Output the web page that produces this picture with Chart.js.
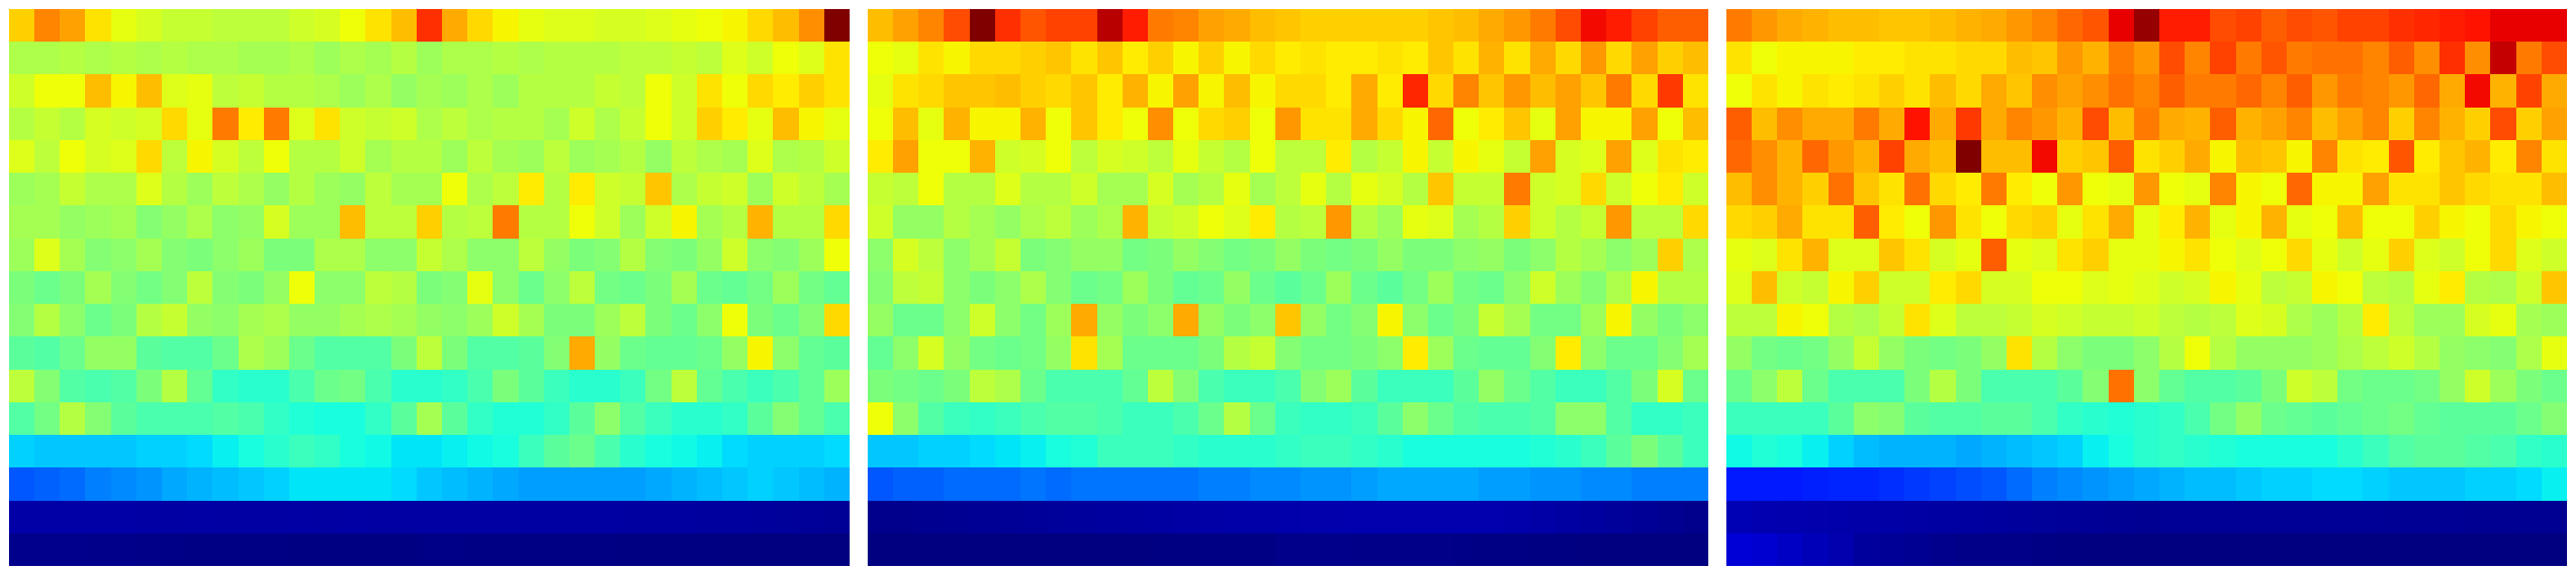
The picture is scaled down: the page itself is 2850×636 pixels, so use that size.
<!DOCTYPE html>
<html>
<head>
<meta charset="utf-8">
<style>
html,body{margin:0;padding:0;background:#fff;width:2850px;height:636px;overflow:hidden}
canvas{position:absolute;top:10px;display:block}
</style>
<script src="https://cdn.jsdelivr.net/npm/chart.js@4"></script>
</head>
<body>
<canvas id="p1" width="930" height="616" style="left:10px"></canvas>
<canvas id="p2" width="930" height="616" style="left:960px"></canvas>
<canvas id="p3" width="930" height="616" style="left:1910px"></canvas>
<script>
const columns = ["1","2","3","4","5","6","7","8","9","10","11","12","13","14","15","16","17","18","19","20","21","22","23","24","25","26","27","28","29","30","31","32","33"];

const panel1 = [
[69,77,74,67,63,61,59,59,58,58,58,60,61,64,67,71,86,73,68,65,63,62,62,61,61,62,63,64,65,68,71,76,100],
[56,56,57,56,57,56,57,56,56,55,55,56,54,56,55,57,54,56,56,57,56,57,57,57,58,58,59,58,62,60,64,62,67],
[60,64,64,71,65,71,62,63,58,59,57,57,56,54,56,53,55,54,56,54,57,57,57,59,58,64,60,67,64,68,66,69,67],
[57,59,57,61,60,61,68,63,78,66,78,62,67,60,59,60,56,58,56,57,57,55,60,56,59,64,60,69,66,63,71,65,63],
[62,58,64,61,62,68,58,65,61,58,64,57,57,60,55,57,57,54,58,55,54,58,54,55,57,53,58,56,55,62,56,57,60],
[54,55,59,56,56,62,57,54,58,56,53,57,54,53,58,55,55,64,56,58,66,57,66,60,59,70,56,59,60,54,60,58,55],
[55,55,53,54,55,51,53,56,52,53,61,54,54,71,58,58,69,57,58,78,57,57,64,60,54,60,65,55,57,72,57,57,68],
[54,62,55,51,52,55,51,50,52,54,50,50,56,56,52,52,59,56,52,52,58,53,50,51,57,51,50,53,60,52,51,54,64],
[50,48,50,55,51,49,51,58,51,50,53,64,52,52,58,57,50,51,63,52,48,52,58,49,48,50,55,48,47,49,54,49,47],
[51,57,52,48,50,57,59,53,52,55,56,53,53,55,56,55,53,52,54,60,55,50,50,54,58,50,48,52,64,50,48,51,68],
[46,45,48,53,53,46,45,45,48,56,54,48,45,45,45,50,58,50,45,45,46,51,73,53,48,47,47,48,53,65,52,47,46],
[58,51,45,44,45,50,57,47,41,40,40,44,48,49,44,40,40,41,44,50,46,42,40,40,42,49,58,47,44,42,44,47,54],
[45,49,57,51,46,44,44,44,45,44,41,39,38,38,41,46,55,46,41,39,39,41,46,52,45,42,40,40,41,46,51,47,44],
[33,32,32,32,32,33,33,34,36,38,40,42,41,38,37,35,35,36,37,38,42,46,48,44,40,38,37,36,34,33,33,33,34],
[21,22,23,25,26,27,29,30,31,32,33,35,35,35,35,34,32,31,30,29,28,28,28,28,28,29,30,31,32,33,32,31,30],
[3.3,3.3,3.3,3.3,3.3,3.2,3.1,3.2,3.1,3.1,3.1,3.2,3.1,3.2,3.1,3.1,3.1,3.1,3.1,3.1,3,3,3,3,2.9,2.9,2.8,2.7,2.6,2.5,2.3,2.1,2],
[1.1,1.1,1.1,1,1,0.7,0.6,0.5,0.5,0.5,0.4,0.3,0.3,0.3,0.3,0.3,0.6,0.6,0.5,0.5,0.5,0.5,0.4,0.4,0.3,0.3,0.2,0.2,0.1,0.1,0,0,0]
];

const panel2 = [
[71,74,77,83,100,86,82,84,84,95,88,78,77,74,73,71,70,69,69,69,69,69,70,71,73,75,78,83,90,88,84,81,81],
[64,63,67,65,68,68,69,70,67,70,66,69,65,69,65,68,66,67,66,66,67,66,70,67,72,67,73,68,75,68,74,69,71],
[63,67,68,70,70,71,69,68,70,66,72,65,74,65,71,65,68,68,66,73,66,87,68,77,70,75,71,74,70,78,68,85,67],
[64,71,63,72,65,65,72,64,70,66,64,76,64,68,69,64,75,67,67,73,68,65,80,64,66,70,63,74,65,65,74,64,71],
[66,74,64,64,72,60,61,64,58,61,60,58,63,59,57,64,58,58,66,57,59,65,59,65,63,59,74,61,62,74,62,67,66],
[59,58,64,57,57,62,57,57,60,55,55,61,55,57,63,55,58,63,57,63,61,57,70,59,59,78,60,61,68,60,64,66,60],
[60,53,53,57,55,53,56,58,54,56,72,59,60,64,62,66,57,58,75,57,54,63,62,55,57,69,60,57,59,75,58,58,68],
[52,61,58,52,55,59,50,51,53,53,49,50,53,51,49,50,53,50,49,50,53,50,50,52,53,50,52,57,55,52,54,69,56],
[51,58,59,52,50,52,56,51,48,49,54,50,47,48,53,48,46,48,54,48,46,49,54,49,48,52,60,54,51,56,65,57,57],
[53,48,48,52,60,52,49,54,73,53,50,52,73,53,50,52,70,53,49,51,65,52,48,50,59,55,49,49,54,65,53,50,52],
[47,52,61,53,49,48,49,53,67,55,48,48,48,50,57,59,51,49,49,50,52,66,54,48,47,47,51,66,52,48,48,51,55],
[50,49,48,50,58,56,48,44,44,44,47,58,51,44,42,42,44,51,54,46,42,42,42,46,53,48,45,42,42,45,50,61,48],
[64,52,45,42,41,42,44,45,45,44,42,42,44,48,57,48,42,41,41,42,46,52,48,45,44,44,45,52,52,45,41,41,42],
[32,32,33,33,34,35,36,38,39,42,42,42,41,40,40,40,41,42,42,41,40,38,38,38,38,38,39,40,42,46,50,46,42],
[21,22,22,23,23,23,24,23,24,24,24,24,24,25,25,26,26,27,27,28,29,29,29,29,28,28,27,27,26,26,25,25,25],
[1.1,1.2,1.4,1.6,1.8,2,2.2,2.4,2.5,2.7,2.9,3,3.2,3.3,3.5,3.6,3.7,3.8,3.9,4,4,4,4,4,4,3.7,3.3,3,2.6,2.3,1.9,1.5,1.1],
[0,0,0,0,0,0,0,0,0,0,0.1,0.2,0.3,0.4,0.4,0.5,0.9,0.9,0.9,0.8,0.8,0.7,0.7,0.6,0.5,0.4,0.3,0.2,0.1,0,0,0,0]
];

const panel3 = [
[78,75,73,72,71,71,70,70,71,72,73,75,77,80,82,91,98,88,88,83,84,81,83,82,84,84,86,87,88,89,91,91,91],
[67,64,65,65,65,66,66,67,67,68,68,71,70,75,72,78,75,83,77,84,78,82,78,79,79,77,81,76,86,76,94,78,83],
[64,67,65,67,66,67,69,67,71,68,73,70,76,74,76,79,77,81,78,78,80,77,81,75,78,77,75,80,73,90,72,84,73],
[81,71,76,73,73,78,73,89,73,85,73,77,75,72,83,71,78,73,72,81,72,74,77,71,74,77,69,77,72,69,83,69,74],
[80,76,72,80,75,72,84,73,71,100,71,71,90,69,70,81,67,69,73,65,71,70,65,77,67,66,82,66,70,72,66,77,67],
[71,76,72,69,79,70,67,79,68,66,78,66,64,75,64,63,75,64,63,77,65,64,80,65,65,74,67,67,70,68,67,67,71],
[68,69,73,67,67,81,66,64,75,67,64,68,69,63,67,73,63,66,72,63,65,72,63,64,71,64,64,69,65,64,68,65,64],
[63,62,67,72,62,62,70,67,61,63,81,63,62,67,69,63,63,65,67,64,62,64,68,63,60,63,69,62,60,64,68,62,60],
[62,71,60,59,65,69,60,60,66,68,61,61,64,64,62,63,62,60,61,65,63,58,59,65,64,58,57,63,66,57,56,60,70],
[58,58,65,64,57,56,59,67,62,58,58,59,61,60,59,59,60,58,57,58,62,61,56,54,57,66,58,54,54,61,63,55,54],
[53,49,48,49,53,59,53,50,49,50,53,67,57,52,50,50,52,57,64,57,53,53,53,54,56,58,60,57,53,52,51,56,63],
[48,52,58,48,44,44,44,50,57,50,44,44,44,46,51,79,52,47,45,45,46,50,60,58,49,48,48,49,53,60,54,50,48],
[42,42,42,42,46,52,51,46,45,45,46,46,44,41,40,39,40,41,44,49,53,48,47,46,47,48,49,47,46,46,46,48,51],
[37,39,38,36,33,31,30,30,30,29,30,31,32,33,36,38,40,41,40,39,38,38,38,38,40,42,45,46,46,45,44,41,40],
[15,15,15,15.5,16,16,17,18,19,20,21,23,25,26,27,28,29,30,31,31,32,33,33,34,34,33,32,32,32,33,33,34,36],
[4.5,4.2,4,3.9,3.7,3.5,3.4,3.2,3,2.8,2.7,2.5,2.3,2.1,2,1.8,1.7,1.9,1.9,1.9,1.9,1.9,1.9,1.9,1.9,1.9,1.8,1.8,1.8,1.7,1.7,1.6,1.6],
[7.5,7,6,5,4,2.5,2,1.6,1.2,0.8,0.8,0.7,0.4,0.3,0.1,0,0,0,0,0,0,0,0,0,0,0,0,0,0,0,0,0,0]
];

function ramp(v, pts) {
  for (let i = 1; i < pts.length; i++) {
    if (v <= pts[i][0]) {
      const a = pts[i - 1], b = pts[i];
      return a[1] + (b[1] - a[1]) * (v - a[0]) / (b[0] - a[0]);
    }
  }
  return pts[pts.length - 1][1];
}
function jet(pct) {
  const v = Math.max(0, Math.min(1, pct / 100));
  const r = ramp(v, [[0,0],[.35,0],[.66,1],[.89,1],[1,.5]]);
  const g = ramp(v, [[0,0],[.125,0],[.375,1],[.64,1],[.91,0],[1,0]]);
  const b = ramp(v, [[0,.5],[.11,1],[.34,1],[.65,0],[1,0]]);
  return `rgb(${Math.round(r*255)},${Math.round(g*255)},${Math.round(b*255)})`;
}

// Snap every cell to whole pixels so that neighbouring cells share crisp edges.
const snapCells = {
  id: 'snapCells',
  beforeDatasetsDraw(chart) {
    chart.data.datasets.forEach((_, i) => {
      chart.getDatasetMeta(i).data.forEach(el => {
        const l = Math.round(el.x - el.width / 2 - 0.05);
        const r = Math.round(el.x + el.width / 2 - 0.05);
        el.x = (l + r) / 2;
        el.width = r - l;
        el.y = Math.round(el.y);
        el.base = Math.round(el.base);
        el.height = el.base - el.y;
      });
    });
  }
};

function heatmap(id, rows) {
  const datasets = rows.map((row, r) => ({
    label: 'row ' + (r + 1),
    data: row.map(() => 1),
    backgroundColor: row.map(jet),
    borderWidth: 0,
    inflateAmount: 0,
    barPercentage: 1,
    categoryPercentage: 1
  })).reverse();
  new Chart(document.getElementById(id), {
    type: 'bar',
    data: { labels: columns, datasets },
    options: {
      responsive: false,
      animation: false,
      events: [],
      layout: { padding: 0 },
      plugins: { legend: { display: false }, tooltip: { enabled: false }, title: { display: false } },
      scales: {
        x: { stacked: true, display: false, grid: { display: false } },
        y: { stacked: true, display: false, min: 0, max: rows.length, grid: { display: false } }
      }
    },
    plugins: [snapCells]
  });
}

heatmap('p1', panel1);
heatmap('p2', panel2);
heatmap('p3', panel3);
</script>
</body>
</html>
